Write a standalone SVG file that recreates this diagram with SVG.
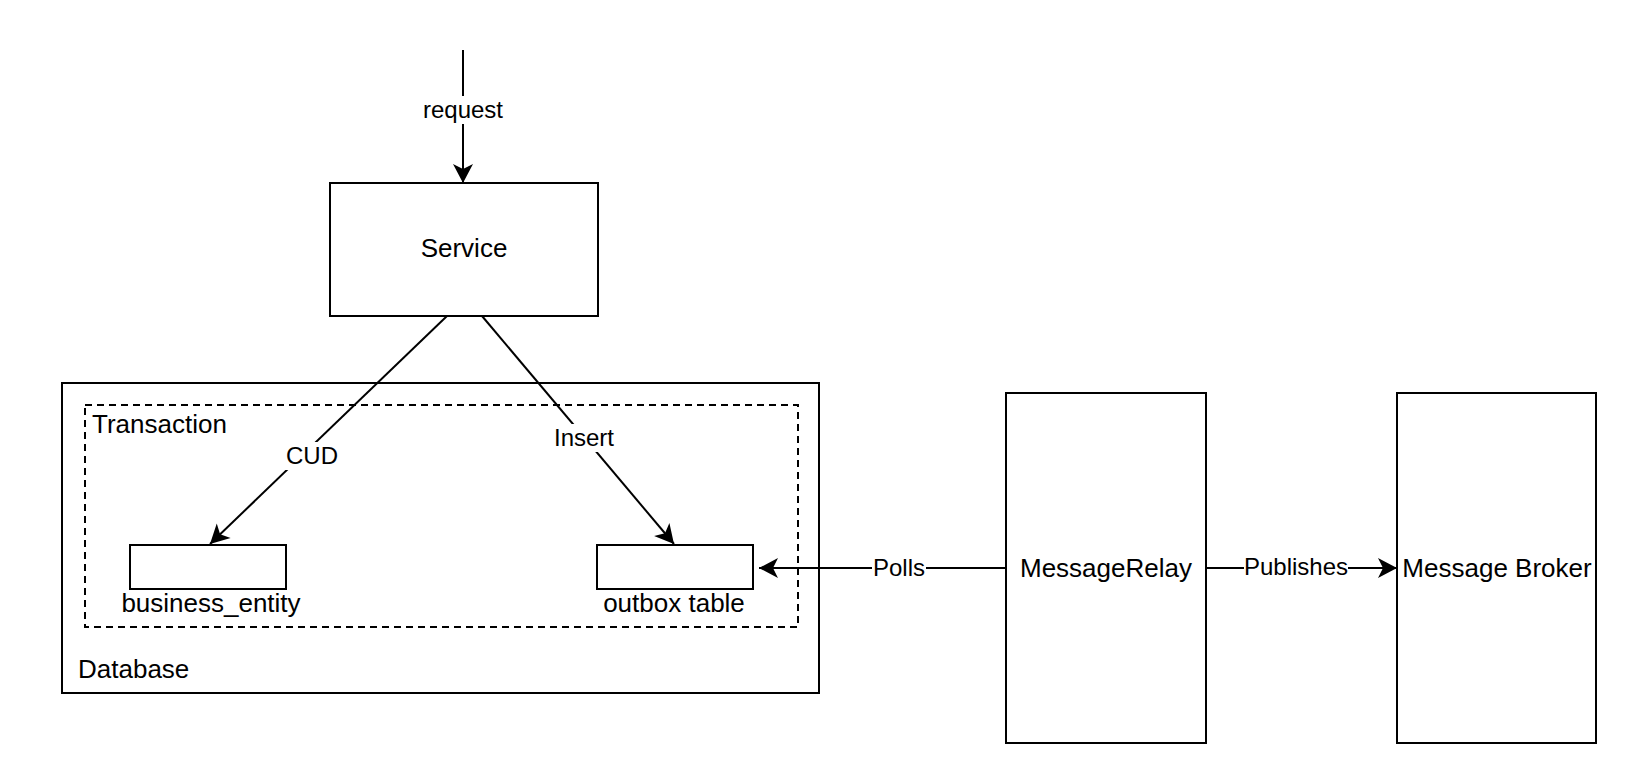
<svg xmlns="http://www.w3.org/2000/svg" width="1650" height="784" viewBox="0 0 1650 784">
<style>
.box{fill:#fff;stroke:#000;stroke-width:2}
.dash{fill:none;stroke:#000;stroke-width:2;stroke-dasharray:7 5}
.edge{fill:none;stroke:#000;stroke-width:2;marker-end:url(#arr)}
.node{font-family:"Liberation Sans",Arial,Helvetica,sans-serif;font-size:26px;fill:#000}
.lbl{font-family:"Liberation Sans",Arial,Helvetica,sans-serif;font-size:24px;fill:#000;text-anchor:middle}
.bg{fill:#fff;stroke:none}
.mid{text-anchor:middle}
</style>
<defs>
<marker id="arr" viewBox="-21 -12 24 24" markerWidth="24" markerHeight="24" refX="0" refY="0" orient="auto" markerUnits="userSpaceOnUse">
<path d="M0,0 L-19,-10 L-14,0 L-19,10 Z" fill="#000"/>
</marker>
</defs>
<rect width="1650" height="784" fill="#fff"/>
<g id="database">
<rect class="box" x="62" y="383" width="757" height="310"/>
<text class="node" x="78" y="678">Database</text>
</g>
<g id="transaction">
<rect class="dash" x="85" y="405" width="713" height="222"/>
<text class="node" x="92" y="433">Transaction</text>
</g>
<g id="service">
<rect class="box" x="330" y="183" width="268" height="133"/>
<text class="node mid" x="464" y="257">Service</text>
</g>
<g id="business_entity">
<rect class="box" x="130" y="545" width="156" height="44"/>
<text class="node mid" x="211" y="612">business_entity</text>
</g>
<g id="outbox_table">
<rect class="box" x="597" y="545" width="156" height="44"/>
<text class="node mid" x="674" y="612">outbox table</text>
</g>
<g id="message_relay">
<rect class="box" x="1006" y="393" width="200" height="350"/>
<text class="node mid" x="1106" y="577">MessageRelay</text>
</g>
<g id="message_broker">
<rect class="box" x="1397" y="393" width="199" height="350"/>
<text class="node mid" x="1497" y="577">Message Broker</text>
</g>
<g id="connectors">
<line class="edge" x1="463" y1="50" x2="463" y2="183"/>
<rect class="bg" x="423" y="96" width="80" height="28"/>
<text class="lbl" x="463" y="118">request</text>
<line class="edge" x1="447" y1="316" x2="210" y2="544"/>
<rect class="bg" x="285" y="442" width="54" height="28"/>
<text class="lbl" x="312" y="464">CUD</text>
<line class="edge" x1="482" y1="316" x2="674" y2="544"/>
<rect class="bg" x="553" y="424" width="62" height="28"/>
<text class="lbl" x="584" y="446">Insert</text>
<line class="edge" x1="1006" y1="568" x2="759" y2="568"/>
<rect class="bg" x="872" y="555" width="54" height="27"/>
<text class="lbl" x="899" y="576">Polls</text>
<line class="edge" x1="1206" y1="568" x2="1397" y2="568"/>
<rect class="bg" x="1244" y="555" width="104" height="27"/>
<text class="lbl" x="1296" y="575">Publishes</text>
</g>
</svg>
